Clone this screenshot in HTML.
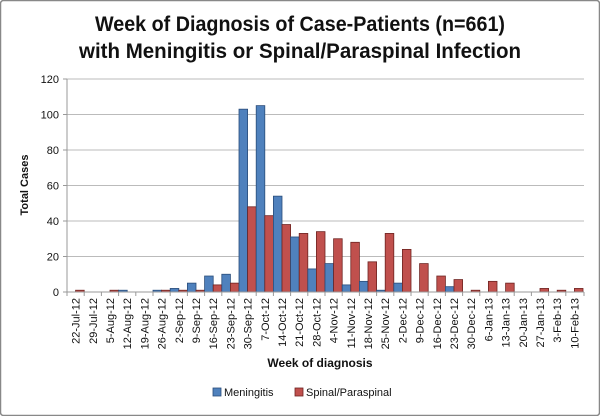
<!DOCTYPE html>
<html><head><meta charset="utf-8"><style>
html,body{margin:0;padding:0;background:#fff}
svg{display:block}
text{font-family:"Liberation Sans",sans-serif}
</style></head><body>
<svg id="s" width="600" height="416" xmlns="http://www.w3.org/2000/svg">
<rect x="0.5" y="0.5" width="599" height="415" rx="3" fill="#fff" stroke="#888" stroke-width="1.5"/>
<text x="300" y="31" text-anchor="middle" font-size="21" font-weight="bold" fill="#111" textLength="410" lengthAdjust="spacingAndGlyphs">Week of Diagnosis of Case-Patients (n=661)</text>
<text x="300" y="58" text-anchor="middle" font-size="21" font-weight="bold" fill="#111" textLength="442" lengthAdjust="spacingAndGlyphs">with Meningitis or Spinal/Paraspinal Infection</text>
<text transform="translate(28,185) rotate(-90)" text-anchor="middle" font-size="11" font-weight="bold" fill="#111">Total Cases</text>
<text x="320" y="367" text-anchor="middle" font-size="12" font-weight="bold" fill="#111">Week of diagnosis</text>
<rect x="213" y="388" width="8" height="8" fill="#4f81bd" stroke="#2a4d7a" stroke-width="0.8"/>
<text x="224" y="396" font-size="11" fill="#111">Meningitis</text>
<rect x="295" y="388" width="8" height="8" fill="#c0504d" stroke="#6e2321" stroke-width="0.8"/>
<text x="306" y="396" font-size="11" fill="#111">Spinal/Paraspinal</text>
<g id="g"></g>
</svg>
<script>
var g=document.getElementById('g'),h='';
var x0=67,w=17.2,y0=292,k=(292-79)/120;
for(var i=0;i<=6;i++){var y=y0-i*20*k;
 if(i>0)h+='<line x1="'+x0+'" y1="'+y+'" x2="584" y2="'+y+'" stroke="#bbb" stroke-width="1"/>';
 h+='<line x1="'+(x0-4)+'" y1="'+y+'" x2="'+x0+'" y2="'+y+'" stroke="#999"/>';
 h+='<text x="'+(x0-8)+'" y="'+(y+4)+'" text-anchor="end" font-size="11" fill="#111">'+(i*20)+'</text>';}
var L=["22-Jul-12","29-Jul-12","5-Aug-12","12-Aug-12","19-Aug-12","26-Aug-12","2-Sep-12","9-Sep-12","16-Sep-12","23-Sep-12","30-Sep-12","7-Oct-12","14-Oct-12","21-Oct-12","28-Oct-12","4-Nov-12","11-Nov-12","18-Nov-12","25-Nov-12","2-Dec-12","9-Dec-12","16-Dec-12","23-Dec-12","30-Dec-12","6-Jan-13","13-Jan-13","20-Jan-13","27-Jan-13","3-Feb-13","10-Feb-13"];
var B=[0,0,0,1,0,1,2,5,9,10,103,105,54,31,13,16,4,6,1,5,0,0,3,0,0,0,0,0,0,0];
var R=[1,0,1,0,0,1,1,1,4,5,48,43,38,33,34,30,28,17,33,24,16,9,7,1,6,5,0,2,1,2];
for(var i=0;i<30;i++){var x=x0+i*w;
 if(B[i])h+='<rect x="'+x+'" y="'+(y0-B[i]*k)+'" width="'+(w/2)+'" height="'+(B[i]*k)+'" fill="#4f81bd" stroke="#2a4d7a" stroke-width="0.8"/>';
 if(R[i])h+='<rect x="'+(x+w/2)+'" y="'+(y0-R[i]*k)+'" width="'+(w/2)+'" height="'+(R[i]*k)+'" fill="#c0504d" stroke="#6e2321" stroke-width="0.8"/>';
 h+='<line x1="'+x+'" y1="'+y0+'" x2="'+x+'" y2="'+(y0+4)+'" stroke="#999"/>';
 h+='<text transform="translate('+(x+w/2+4)+','+(y0+6)+') rotate(-90)" text-anchor="end" font-size="11" fill="#111">'+L[i]+'</text>';}
h+='<line x1="584" y1="'+y0+'" x2="584" y2="'+(y0+4)+'" stroke="#999"/>';
h+='<line x1="'+x0+'" y1="79" x2="'+x0+'" y2="'+y0+'" stroke="#999"/>';
h+='<line x1="'+x0+'" y1="'+y0+'" x2="584" y2="'+y0+'" stroke="#999"/>';
g.innerHTML=h;
</script>
</body></html>
